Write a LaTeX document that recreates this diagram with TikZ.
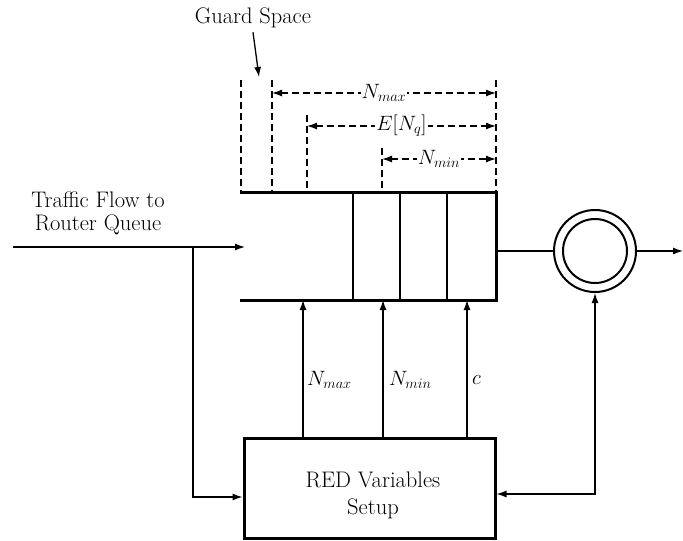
\documentclass[tikz,border=0pt]{standalone}
\usetikzlibrary{arrows.meta}
\begin{document}
\begin{tikzpicture}[x=1pt,y=-1pt,
  thin line/.style={line width=1.3pt},
  thick line/.style={line width=3pt},
  arr/.style={thin line,-{Latex[length=10pt,width=7pt]}},
  dashline/.style={thin line,dash pattern=on 7pt off 4pt},
  dasharr/.style={dashline,{Latex[length=10pt,width=7pt]}-{Latex[length=10pt,width=7pt]}},
  lbl/.style={font=\fontsize{22.5}{26}\selectfont,inner sep=1pt},
  every node/.style={font=\fontsize{22.5}{26}\selectfont}]
\useasboundingbox (0,0) rectangle (683,541);
% queue
\coordinate (qtl) at (240,192);
\coordinate (qtr) at (496,192);
\coordinate (qbr) at (496,300);
\coordinate (qbl) at (240,300);
\draw[thick line] (qtl) -- (qtr) -- (qbr) -- (qbl);
\coordinate (c1t) at (353,192); \coordinate (c1b) at (353,300);
\coordinate (c2t) at (400,192); \coordinate (c2b) at (400,300);
\coordinate (c3t) at (447,192); \coordinate (c3b) at (447,300);
\draw[thin line] (c1t) -- (c1b) (c2t) -- (c2b) (c3t) -- (c3b);
% server
\node[circle,draw,line width=2pt,minimum size=82pt,inner sep=0pt] (srv) at (595,251) {};
\draw[line width=2pt] (srv.center) circle[radius=32pt];
% RED box
\node[draw,thick line,minimum width=251pt,minimum height=100pt] (red) at (369.5,488) {};
\node[align=center,font=\fontsize{22.5}{27}\selectfont] (redtxt) at (373,495) {RED Variables\\Setup};
% input
\node[lbl,align=center,font=\fontsize{22.5}{23}\selectfont] (tf) at (98,213) {Traffic Flow to\\Router Queue};
\coordinate (in) at (13,247);
\coordinate (qin) at (245,247);
\coordinate (br) at (193,247);
\draw[arr] (in) -- (qin);
\draw[arr] (br) |- ([yshift=-9pt]red.west);
% queue to server, output
\coordinate (qout) at (496,251);
\draw[thin line] (qout) -- (srv.west);
\coordinate (out) at (683,251);
\draw[arr] (srv.east) -- (out);
\draw[thin line,{Latex[length=10pt,width=7pt]}-{Latex[length=10pt,width=7pt]}] (srv.south) |- ([yshift=-6pt]red.east);
% control arrows
\foreach \x/\n in {303/a,383/b,467/c}{
  \coordinate (s\n) at (\x,438);
  \coordinate (t\n) at (\x,300);
  \draw[arr] (s\n) -- (t\n);
}
\node[lbl,anchor=west] (lmax) at (306,380) {$N_{max}$};
\node[lbl,anchor=west] (lmin) at (388,380) {$N_{min}$};
\node[lbl,anchor=west] (lc) at (471,380) {$c$};
% dashed lines
\coordinate (d1t) at (241,80);  \coordinate (d1b) at (241,192);
\coordinate (d2t) at (272,80);  \coordinate (d2b) at (272,192);
\coordinate (d3t) at (307,115); \coordinate (d3b) at (307,192);
\coordinate (d4t) at (382,148); \coordinate (d4b) at (382,192);
\coordinate (d5t) at (496,80);  \coordinate (d5b) at (496,192);
\draw[dashline] (d1t) -- (d1b) (d2t) -- (d2b) (d3t) -- (d3b) (d4t) -- (d4b) (d5t) -- (d5b);
\coordinate (a1l) at (272,93);  \coordinate (a1r) at (496,93);
\coordinate (a2l) at (307,126); \coordinate (a2r) at (496,126);
\coordinate (a3l) at (382,159); \coordinate (a3r) at (496,159);
\draw[dasharr] (a1l) -- node[fill=white,lbl] (nmax) {$N_{max}$} (a1r);
\draw[dasharr] (a2l) -- node[fill=white,lbl] (enq) {$E[N_q]$} (a2r);
\draw[dasharr] (a3l) -- node[fill=white,lbl] (nmin) {$N_{min}$} (a3r);
% guard space
\node[lbl] (gs) at (253,18) {Guard Space};
\coordinate (gst) at (259,77);
\draw[arr] ([yshift=-3pt]gs.south) -- (gst);
\end{tikzpicture}
\end{document}
